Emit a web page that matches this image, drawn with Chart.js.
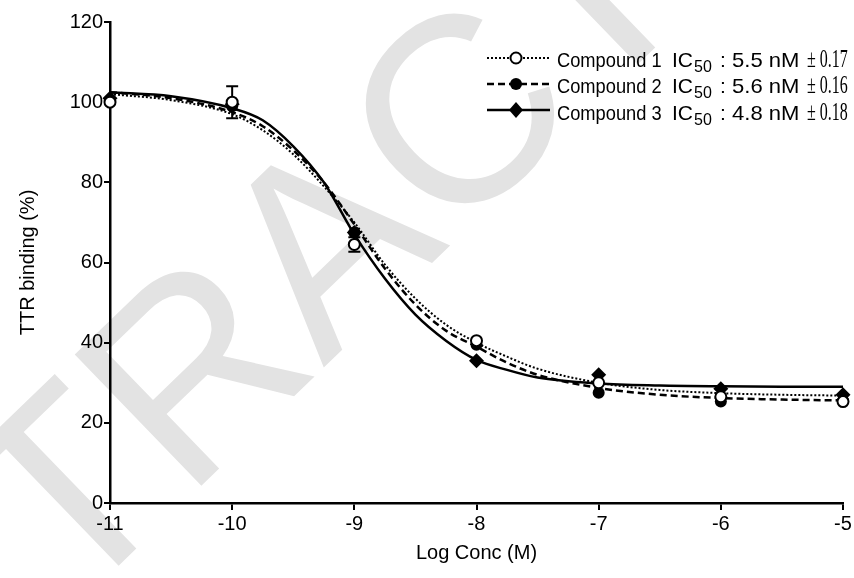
<!DOCTYPE html>
<html>
<head>
<meta charset="utf-8">
<script src="https://cdn.jsdelivr.net/npm/chart.js@4"></script>
<style>
  html, body { margin: 0; padding: 0; background: #fff; }
  #wrap { position: relative; width: 854px; height: 578px; overflow: hidden; }
  #mark {
    position: absolute; left: 70px; top: 389px;
    font: 265px/265px "Liberation Sans", Arial, sans-serif;
    color: #e3e3e3; white-space: nowrap;
    transform-origin: 0 225px; transform: rotate(-44deg);
  }
  #mark span { position: absolute; right: 100%; top: 0; }
  canvas { position: absolute; left: 0; top: 0; }
  .leg { position: absolute; font: 21px/21px "Liberation Sans", Arial, sans-serif; color: #000;
         white-space: nowrap; transform-origin: 0 0; }
  .name { transform: scaleX(0.87); }
  .sub { font-size: 16px; line-height: 16px; }
  .wide { transform: scaleX(1.05); }
  .pm { font-family: "Liberation Serif", "Times New Roman", serif; font-size: 25px; line-height: 25px; transform: scaleX(0.64); }
  #samples { position: absolute; left: 484px; top: 40px; }
</style>
</head>
<body>
<div id="wrap">
  <div id="mark"><span>RE</span>TRACTED</div>
  <canvas id="chart" width="854" height="578"></canvas>
  <svg id="samples" width="70" height="90">
    <line x1="3" y1="18" x2="66" y2="18" stroke="#000" stroke-width="2" stroke-dasharray="2 2"/>
    <circle cx="32" cy="18" r="5.5" fill="#fff" stroke="#000" stroke-width="2"/>
    <line x1="3" y1="44" x2="66" y2="44" stroke="#000" stroke-width="2.5" stroke-dasharray="7 4"/>
    <circle cx="32" cy="44" r="6" fill="#000"/>
    <line x1="3" y1="70" x2="66" y2="70" stroke="#000" stroke-width="2.5"/>
    <path d="M32 62 L39 70 L32 78 L25 70 Z" fill="#000"/>
  </svg>

  <div class="leg name" style="left:557px; top:49px">Compound 1</div>
  <div class="leg" style="left:672px; top:49px">IC</div>
  <div class="leg sub" style="left:694px; top:59px">50</div>
  <div class="leg" style="left:720px; top:49px">:</div>
  <div class="leg wide" style="left:732px; top:49px">5.5 nM</div>
  <div class="leg pm" style="left:807px; top:46px">± 0.17</div>

  <div class="leg name" style="left:557px; top:75px">Compound 2</div>
  <div class="leg" style="left:672px; top:75px">IC</div>
  <div class="leg sub" style="left:694px; top:85px">50</div>
  <div class="leg" style="left:720px; top:75px">:</div>
  <div class="leg wide" style="left:732px; top:75px">5.6 nM</div>
  <div class="leg pm" style="left:807px; top:72px">± 0.16</div>

  <div class="leg name" style="left:557px; top:102px">Compound 3</div>
  <div class="leg" style="left:672px; top:102px">IC</div>
  <div class="leg sub" style="left:694px; top:112px">50</div>
  <div class="leg" style="left:720px; top:102px">:</div>
  <div class="leg wide" style="left:732px; top:102px">4.8 nM</div>
  <div class="leg pm" style="left:807px; top:99px">± 0.18</div>
</div>
<script>
// measured points (log M vs % binding)
const logConc = [-11, -10, -9, -8, -7, -6, -5];
const compound1 = [100, 100, 64.5, 40.5, 30, 26.5, 25.3];
const compound1Err = [0, 4, 1.8, 0, 0, 0, 0];
const compound2 = [100.5, 99, 67.5, 39.5, 27.5, 25.3, 25.5];
const compound3 = [101, 99.5, 67.5, 35.5, 32, 28.5, 27];

// fitted curves
const curveX = [-11, -10.5, -10, -9.75, -9.5, -9.25, -9, -8.75, -8.5, -8.25, -8, -7.75, -7.5, -7, -6.5, -6, -5.5, -5];
const fit1 = [102, 100.5, 97, 93, 87, 79, 70, 59.5, 51, 44.5, 40, 36.5, 33.5, 30, 28.2, 27.4, 27, 26.8];
const fit2 = [102.5, 101, 97.5, 94, 88, 80, 69.5, 58.5, 49.5, 43, 39, 35, 32, 28.7, 27, 26.2, 25.8, 25.6];
const fit3 = [102.5, 101.5, 98.5, 95.5, 89, 80, 67, 56, 47, 40.5, 35.7, 33.2, 31.3, 29.8, 29.3, 29.1, 29, 29];

const xTicks = [-11, -10, -9, -8, -7, -6, -5];
const yTicks = [0, 20, 40, 60, 80, 100, 120];

const pts = (xs, ys) => xs.map((x, i) => ({ x: x, y: ys[i] }));

const errorBars = {
  id: 'errorBars',
  beforeDatasetsDraw(chart) {
    const ctx = chart.ctx;
    const xs = chart.scales.x, ys = chart.scales.y;
    ctx.save();
    ctx.strokeStyle = '#000';
    ctx.lineWidth = 2;
    logConc.forEach((x, i) => {
      const e = compound1Err[i];
      if (!e) return;
      const px = xs.getPixelForValue(x);
      const top = ys.getPixelForValue(compound1[i] + e);
      const bot = ys.getPixelForValue(compound1[i] - e);
      ctx.beginPath();
      ctx.moveTo(px, top); ctx.lineTo(px, bot);
      ctx.moveTo(px - 6, top); ctx.lineTo(px + 6, top);
      ctx.moveTo(px - 6, bot); ctx.lineTo(px + 6, bot);
      ctx.stroke();
    });
    ctx.restore();
  }
};

const axisFont = { family: '"Liberation Sans", Arial, sans-serif', size: 20 };

new Chart(document.getElementById('chart'), {
  type: 'scatter',
  data: {
    datasets: [
      { label: 'Compound 1', data: pts(logConc, compound1), pointStyle: 'circle', pointRadius: 5.5,
        backgroundColor: '#fff', borderColor: '#000', borderWidth: 2, showLine: false, order: 0, clip: false },
      { label: 'Compound 2', data: pts(logConc, compound2), pointStyle: 'circle', pointRadius: 6,
        backgroundColor: '#000', borderColor: '#000', borderWidth: 0, showLine: false, order: 1, clip: false },
      { label: 'Compound 3', data: pts(logConc, compound3), pointStyle: 'rectRot', pointRadius: 7.5,
        backgroundColor: '#000', borderColor: '#000', borderWidth: 0, showLine: false, order: 2, clip: false },
      { label: 'fit 1', data: pts(curveX, fit1), showLine: true, pointRadius: 0, borderColor: '#000',
        borderWidth: 2, borderDash: [2, 2], cubicInterpolationMode: 'monotone', order: 3 },
      { label: 'fit 2', data: pts(curveX, fit2), showLine: true, pointRadius: 0, borderColor: '#000',
        borderWidth: 2.5, borderDash: [7, 4], cubicInterpolationMode: 'monotone', order: 4 },
      { label: 'fit 3', data: pts(curveX, fit3), showLine: true, pointRadius: 0, borderColor: '#000',
        borderWidth: 2.5, cubicInterpolationMode: 'monotone', order: 5 }
    ]
  },
  options: {
    responsive: false,
    devicePixelRatio: 1,
    animation: false,
    layout: { padding: { left: 0, right: 11, top: 22, bottom: 0 } },
    plugins: { legend: { display: false }, tooltip: { enabled: false } },
    scales: {
      x: {
        type: 'linear', min: -11, max: -5,
        afterFit: s => { s.height = 75; },
        afterBuildTicks: s => { s.ticks = xTicks.map(v => ({ value: v })); },
        grid: { drawOnChartArea: false, drawTicks: true, tickLength: 7, color: '#000', lineWidth: 2 },
        border: { display: true, color: '#000', width: 2.5 },
        ticks: { color: '#000', font: axisFont, padding: 2, maxRotation: 0 },
        title: { display: true, text: 'Log Conc (M)', color: '#000', font: axisFont, padding: { top: 0, bottom: 13 } }
      },
      y: {
        type: 'linear', min: 0, max: 120,
        afterFit: s => { s.width = 110; },
        afterBuildTicks: s => { s.ticks = yTicks.map(v => ({ value: v })); },
        grid: { drawOnChartArea: false, drawTicks: true, tickLength: 6, color: '#000', lineWidth: 2 },
        border: { display: true, color: '#000', width: 2.5 },
        ticks: { color: '#000', font: axisFont, padding: 1 },
        title: { display: true, text: 'TTR binding (%)', color: '#000', font: axisFont, padding: { top: 16, bottom: 0 } }
      }
    }
  },
  plugins: [errorBars]
});
</script>
</body>
</html>
